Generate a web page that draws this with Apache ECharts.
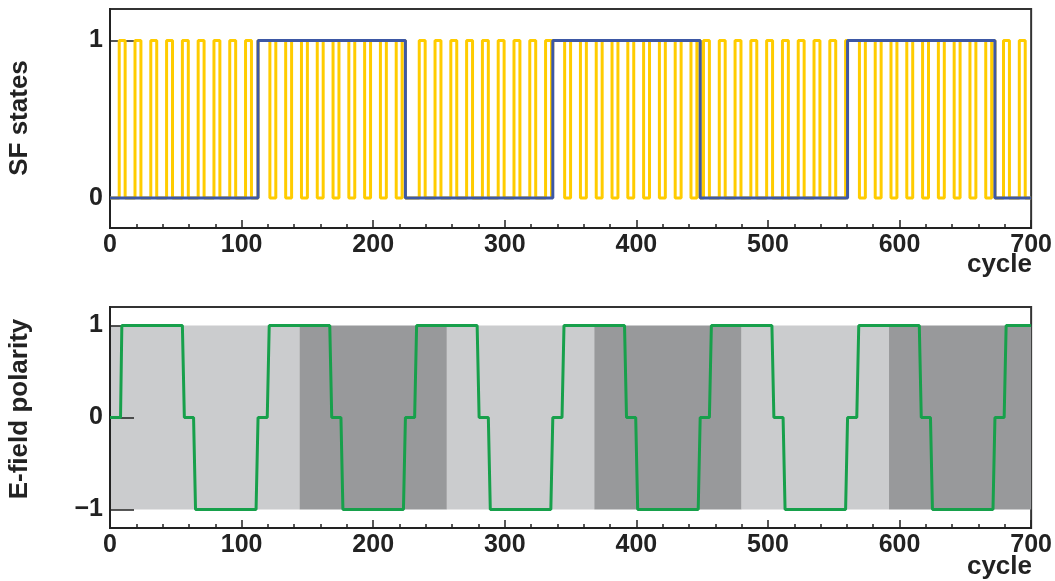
<!DOCTYPE html>
<html>
<head>
<meta charset="utf-8">
<script src="https://cdn.jsdelivr.net/npm/echarts@6/dist/echarts.min.js"></script>
<style>
  html, body { margin: 0; padding: 0; background: #fff; }
  #chart { width: 1055px; height: 581px; }
</style>
</head>
<body>
<div id="chart"></div>
<script>
// SF state (yellow): cycles at which the state toggles, starting from 0
const sfToggles = [
  7, 11.5, 19, 23.5, 31, 35.5, 43, 47.5, 55, 59.5, 67, 71.5, 79, 83.5, 91, 95.5, 103, 107.5,
  112.5, 121.5, 126, 133.5, 138, 145.5, 150, 157.5, 162, 169.5, 174, 181.5, 186, 193.5, 198, 205.5, 210, 217.5, 222,
  224.5, 235, 239.5, 247, 251.5, 259, 263.5, 271, 275.5, 283, 287.5, 295, 299.5, 307, 311.5, 319, 323.5, 331, 335.5,
  336.5, 345.5, 350, 357.5, 362, 369.5, 374, 381.5, 386, 393.5, 398, 405.5, 410, 417.5, 422, 429.5, 434, 441.5, 446,
  448.5, 451, 455.5, 463, 467.5, 475, 479.5, 487, 491.5, 499, 503.5, 511, 515.5, 523, 527.5, 535, 539.5, 547, 551.5, 559,
  569.5, 574, 581.5, 586, 593.5, 598, 605.5, 610, 617.5, 622, 629.5, 634, 641.5, 646, 653.5, 658, 665.5, 670,
  672.5, 679, 683.5, 691, 695.5
];
// block state (blue): toggle cycles, starting from 0
const blockToggles = [112.5, 224.5, 336.5, 448.5, 560.5, 672.5];

// E-field polarity (green)
const polCycle = [0, 8, 9, 55, 56.5, 63.5, 65, 111, 112.5, 119.5, 121, 167, 168.5, 175.5, 177, 223, 224.5,
  231.5, 233, 279, 280.5, 287.5, 289, 335, 336.5, 343.5, 345, 391, 392.5, 399.5, 401, 447, 448.5,
  455.5, 457, 503, 504.5, 511.5, 513, 559, 560.5, 567.5, 569, 615, 616.5, 623.5, 625, 671, 672.5,
  679.5, 681, 700];
const polValue = [0, 0, 1, 1, 0, 0, -1, -1, 0, 0, 1, 1, 0, 0, -1, -1, 0,
  0, 1, 1, 0, 0, -1, -1, 0, 0, 1, 1, 0, 0, -1, -1, 0,
  0, 1, 1, 0, 0, -1, -1, 0, 0, 1, 1, 0, 0, -1, -1, 0,
  0, 1, 1];

// background bands in the lower panel
const bandEdges = [0, 144, 256, 368, 480, 592, 700];
const bandShade = ['light', 'dark', 'light', 'dark', 'light', 'dark'];

const xMin = 0, xMax = 700;

function togglesToPoints(toggles) {
  let s = 0;
  const pts = [[xMin, s]];
  toggles.forEach(t => {
    pts.push([t, s]);
    s = 1 - s;
    pts.push([t, s]);
  });
  pts.push([xMax, s]);
  return pts;
}

const ink = '#222';
const font = 'Liberation Sans, Arial, Helvetica, sans-serif';
const shadeColor = { light: '#cbccce', dark: '#98999b' };

function xAxisOf(grid) {
  return {
    gridIndex: grid, type: 'value', min: xMin, max: xMax, interval: 100,
    axisLine: { onZero: false, lineStyle: { color: ink, width: 2 } },
    axisTick: { inside: true, length: 8, lineStyle: { color: ink, width: 1.5 } },
    minorTick: { show: true, splitNumber: 5, length: 4, lineStyle: { color: ink, width: 1.5 } },
    axisLabel: { color: ink, fontSize: 25, fontWeight: 'bold', fontFamily: font, margin: 5,
      showMinLabel: true, showMaxLabel: true },
    splitLine: { show: false },
    z: 2
  };
}

function yAxisOf(grid, min, max, ticks) {
  return {
    gridIndex: grid, type: 'value', min: min, max: max,
    axisLine: { onZero: false, lineStyle: { color: ink, width: 2 } },
    axisTick: { inside: true, length: 24, customValues: ticks, lineStyle: { color: ink, width: 1.5 } },
    axisLabel: { color: ink, fontSize: 25, fontWeight: 'bold', fontFamily: font, margin: 7,
      customValues: ticks, formatter: v => (v < 0 ? '\u2212' + Math.abs(v) : String(v)) },
    splitLine: { show: false },
    z: 2
  };
}

function titleText(text, x, y, rotated) {
  return {
    type: 'text', x: x, y: y, rotation: rotated ? Math.PI / 2 : 0,
    style: { text: text, fill: ink, font: 'bold 26px ' + font,
      align: rotated ? 'center' : 'right', verticalAlign: 'middle' }
  };
}

const chart = echarts.init(document.getElementById('chart'));
chart.setOption({
  animation: false,
  backgroundColor: '#fff',
  grid: [
    { left: 110, right: 23, top: 9, height: 219, show: true, borderColor: '#333', borderWidth: 2 },
    { left: 110, right: 23, top: 307, height: 221, show: true, borderColor: '#333', borderWidth: 2 }
  ],
  xAxis: [xAxisOf(0), xAxisOf(1)],
  yAxis: [
    yAxisOf(0, -0.19, 1.2, [0, 1]),
    yAxisOf(1, -1.2, 1.2, [-1, 0, 1])
  ],
  graphic: [
    titleText('SF states', 20, 118, true),
    titleText('E-field polarity', 20, 409, true),
    titleText('cycle', 1032, 265, false),
    titleText('cycle', 1032, 567, false)
  ],
  series: [
    {
      type: 'line', xAxisIndex: 0, yAxisIndex: 0, z: 3,
      data: togglesToPoints(sfToggles), showSymbol: false, symbol: 'none',
      lineStyle: { color: '#ffcc00', width: 3 }
    },
    {
      type: 'line', xAxisIndex: 0, yAxisIndex: 0, z: 4,
      data: togglesToPoints(blockToggles), showSymbol: false, symbol: 'none',
      lineStyle: { color: '#3d58a5', width: 3 }
    },
    {
      type: 'line', xAxisIndex: 1, yAxisIndex: 1, z: 1, data: [], silent: true,
      markArea: {
        silent: true,
        data: bandShade.map((s, i) => [
          { xAxis: bandEdges[i], yAxis: -1, itemStyle: { color: shadeColor[s] } },
          { xAxis: bandEdges[i + 1], yAxis: 1 }
        ])
      }
    },
    {
      type: 'line', xAxisIndex: 1, yAxisIndex: 1, z: 3,
      data: polCycle.map((c, i) => [c, polValue[i]]), showSymbol: false, symbol: 'none',
      lineStyle: { color: '#17a04b', width: 3 }
    }
  ]
});
</script>
</body>
</html>
